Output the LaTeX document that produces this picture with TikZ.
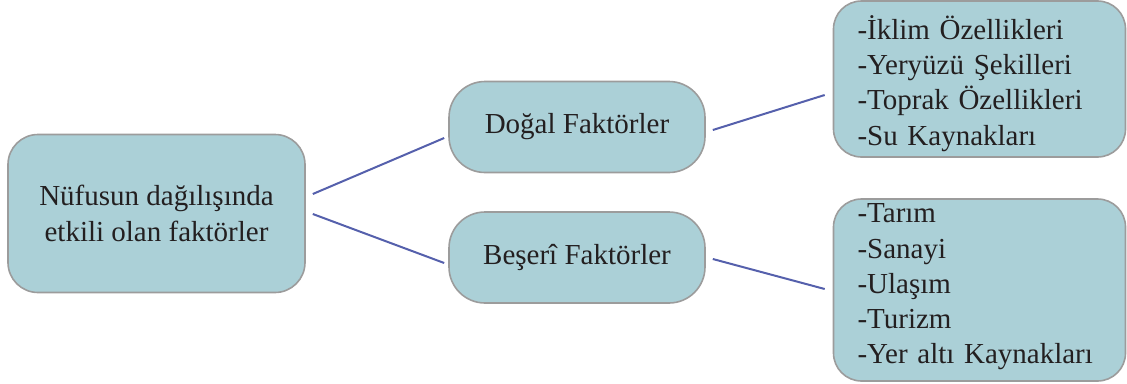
\documentclass[tikz,border=0pt]{standalone}
\usepackage{fontspec}
\setmainfont{Liberation Serif}
\definecolor{boxfill}{HTML}{ABD0D7}
\definecolor{boxline}{HTML}{9C9C9C}
\definecolor{conn}{HTML}{5560AC}
\definecolor{txt}{HTML}{231F20}
\begin{document}
\begin{tikzpicture}[x=1pt,y=-1pt,
  box/.style={draw=boxline, line width=1.6pt, fill=boxfill, text=txt,
    font=\fontsize{29}{35.2}\selectfont, inner sep=0pt},
  listtext/.style={text=txt, font=\fontsize{29}{35.2}\selectfont, inner sep=0pt,
    text width=244pt, align=left},
  conline/.style={draw=conn, line width=2pt}]
\useasboundingbox (0,0) rectangle (1127,383);
\node[box, rounded corners=30pt, minimum width=297pt, minimum height=158pt, align=center]
  (main) at (156.5,213.5) {Nüfusun dağılışında\\etkili olan faktörler};
\node[box, rounded corners=36pt, minimum width=256pt, minimum height=91pt]
  (dogal) at (577,127) {Doğal Faktörler};
\node[box, rounded corners=36pt, minimum width=256pt, minimum height=91pt]
  (beseri) at (577,257.5) {Beşerî Faktörler};
\node[box, rounded corners=28pt, minimum width=292pt, minimum height=156pt]
  (dogallist) at (979.5,79) {};
\node[listtext] (dogallistT) at ([yshift=-4.5pt]dogallist.center)
  {-İklim Özellikleri\\-Yeryüzü Şekilleri\\-Toprak Özellikleri\\-Su Kaynakları};
\node[box, rounded corners=28pt, minimum width=292pt, minimum height=182pt]
  (beserilist) at (979.5,290) {};
\node[listtext] (beserilistT) at ([yshift=3pt]beserilist.center)
  {-Tarım\\-Sanayi\\-Ulaşım\\-Turizm\\-Yer altı Kaynakları};
\draw[conline] ([xshift=7pt,yshift=19.5pt]main.east) -- ([xshift=-4pt,yshift=-11pt]dogal.west);
\draw[conline] ([xshift=7pt,yshift=-0.5pt]main.east) -- ([xshift=-4pt,yshift=-5.5pt]beseri.west);
\draw[conline] ([xshift=7pt,yshift=-3pt]dogal.east) -- ([xshift=-8pt,yshift=-16pt]dogallist.west);
\draw[conline] ([xshift=7pt,yshift=-1.5pt]beseri.east) -- ([xshift=-8pt,yshift=1pt]beserilist.west);
\end{tikzpicture}
\end{document}
